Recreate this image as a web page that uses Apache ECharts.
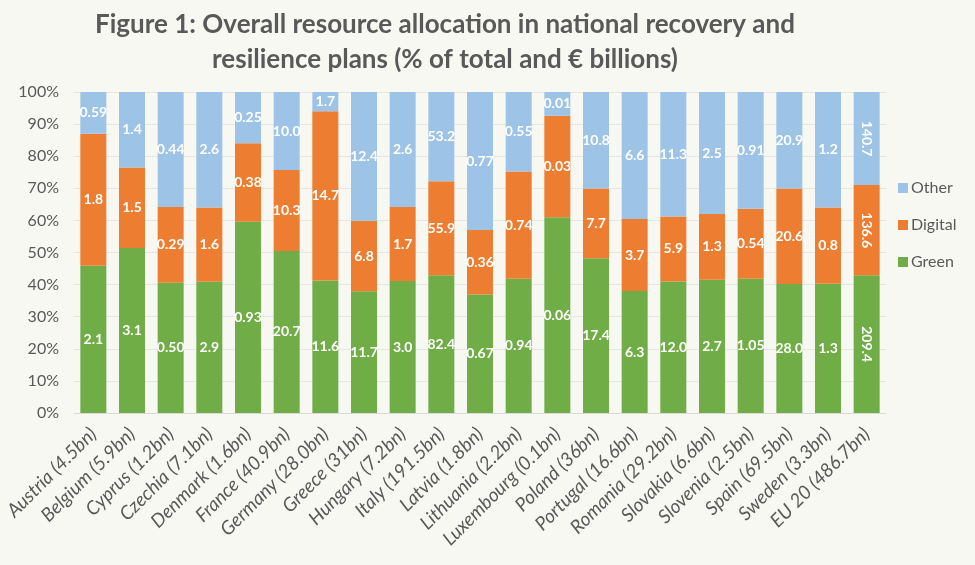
<!DOCTYPE html>
<html>
<head>
<meta charset="utf-8">
<script src="https://cdn.jsdelivr.net/npm/echarts@6/dist/echarts.min.js"></script>
<style>
  html, body { margin: 0; padding: 0; background: #f8f8f3; }
  #main { width: 975px; height: 565px; }
</style>
</head>
<body>
<div id="main"></div>
<script>
// categories (country + plan size)
var countries = ['Austria (4.5bn)', 'Belgium (5.9bn)', 'Cyprus (1.2bn)', 'Czechia (7.1bn)', 'Denmark (1.6bn)',
  'France (40.9bn)', 'Germany (28.0bn)', 'Greece (31bn)', 'Hungary (7.2bn)', 'Italy (191.5bn)', 'Latvia (1.8bn)',
  'Lithuania (2.2bn)', 'Luxembourg (0.1bn)', 'Poland (36bn)', 'Portugal (16.6bn)', 'Romania (29.2bn)',
  'Slovakia (6.6bn)', 'Slovenia (2.5bn)', 'Spain (69.5bn)', 'Sweden (3.3bn)', 'EU 20 (486.7bn)'];

// share of total, %
var greenPct   = [45.9, 51.4, 40.6, 40.9, 59.6, 50.5, 41.3, 37.9, 41.1, 42.9, 36.9,
                  41.8, 61.0, 48.2, 38.0, 41.0, 41.5, 41.8, 40.2, 40.3, 42.9];
var digitalPct = [41.1, 25.1, 23.6, 23.1, 24.4, 25.2, 52.7, 22.0, 23.1, 29.3, 20.1,
                  33.4, 31.6, 21.7, 22.4, 20.2, 20.5, 21.8, 29.7, 23.7, 28.1];
var otherPct   = [13.0, 23.5, 35.8, 36.0, 16.0, 24.3, 6.0, 40.1, 35.8, 27.8, 43.0,
                  24.8, 7.4, 30.1, 39.6, 38.8, 38.0, 36.4, 30.1, 36.0, 29.0];

// € billions shown on the bars
var greenBn   = ['2.1', '3.1', '0.50', '2.9', '0.93', '20.7', '11.6', '11.7', '3.0', '82.4', '0.67',
                 '0.94', '0.06', '17.4', '6.3', '12.0', '2.7', '1.05', '28.0', '1.3', '209.4'];
var digitalBn = ['1.8', '1.5', '0.29', '1.6', '0.38', '10.3', '14.7', '6.8', '1.7', '55.9', '0.36',
                 '0.74', '0.03', '7.7', '3.7', '5.9', '1.3', '0.54', '20.6', '0.8', '136.6'];
var otherBn   = ['0.59', '1.4', '0.44', '2.6', '0.25', '10.0', '1.7', '12.4', '2.6', '53.2', '0.77',
                 '0.55', '0.01', '10.8', '6.6', '11.3', '2.5', '0.91', '20.9', '1.2', '140.7'];

var yTicks = [0, 10, 20, 30, 40, 50, 60, 70, 80, 90, 100];

var FONT = 'Lato';
var lastIdx = countries.length - 1;

function makeData(pct, bn) {
  var arr = [];
  for (var i = 0; i < pct.length; i++) {
    var item = { value: pct[i], bn: bn[i] };
    //last bar (EU 20) has its labels turned
    if (i == lastIdx) {
      item.label = { rotate: -90 };
    }
    arr.push(item);
  }
  return arr;
}

function makeSeries(name, color, pct, bn) {
  return {
    name: name,
    type: 'bar',
    stack: 'total',
    barWidth: 26,
    itemStyle: { color: color },
    label: {
      show: true,
      position: 'inside',
      color: '#fff',
      fontFamily: FONT,
      fontWeight: 'bold',
      fontSize: 14,
      formatter: function(p) { return p.data.bn; }
    },
    data: makeData(pct, bn)
  };
}

var myChart = echarts.init(document.getElementById('main'));
var option = {
  backgroundColor: '#f8f8f3',
  title: {
    text: 'Figure 1: Overall resource allocation in national recovery and\nresilience plans (% of total and € billions)',
    left: 440,
    top: 2,
    textAlign: 'center',
    textStyle: {
      fontFamily: FONT,
      fontWeight: 'bold',
      fontSize: 26,
      color: '#595959',
      lineHeight: 35
    }
  },
  legend: {
    orient: 'vertical',
    left: 893,
    top: 175,
    itemWidth: 10,
    itemHeight: 10,
    itemGap: 21,
    icon: 'rect',
    textStyle: { fontFamily: FONT, fontSize: 16, color: '#595959', padding: [0, 0, 0, -2] },
    data: ['Other', 'Digital', 'Green']
  },
  grid: { left: 74, right: 89, top: 92, bottom: 152 },
  xAxis: {
    type: 'category',
    data: countries,
    axisTick: { show: false },
    axisLine: { lineStyle: { color: '#d9d9d9' } },
    axisLabel: {
      interval: 0,
      rotate: 45,
      margin: 18,
      fontFamily: FONT,
      fontStyle: 'italic',
      fontSize: 19,
      color: '#595959'
    }
  },
  yAxis: {
    type: 'value',
    min: yTicks[0],
    max: yTicks[yTicks.length - 1],
    interval: 10,
    axisLabel: {
      fontFamily: FONT,
      fontSize: 16,
      color: '#595959',
      margin: 15,
      formatter: '{value}%'
    },
    splitLine: { lineStyle: { color: '#e6e6e3' } }
  },
  series: [
    makeSeries('Green', '#70ad47', greenPct, greenBn),
    makeSeries('Digital', '#ed7d31', digitalPct, digitalBn),
    makeSeries('Other', '#9dc3e6', otherPct, otherBn)
  ]
};
myChart.setOption(option);
</script>
</body>
</html>
